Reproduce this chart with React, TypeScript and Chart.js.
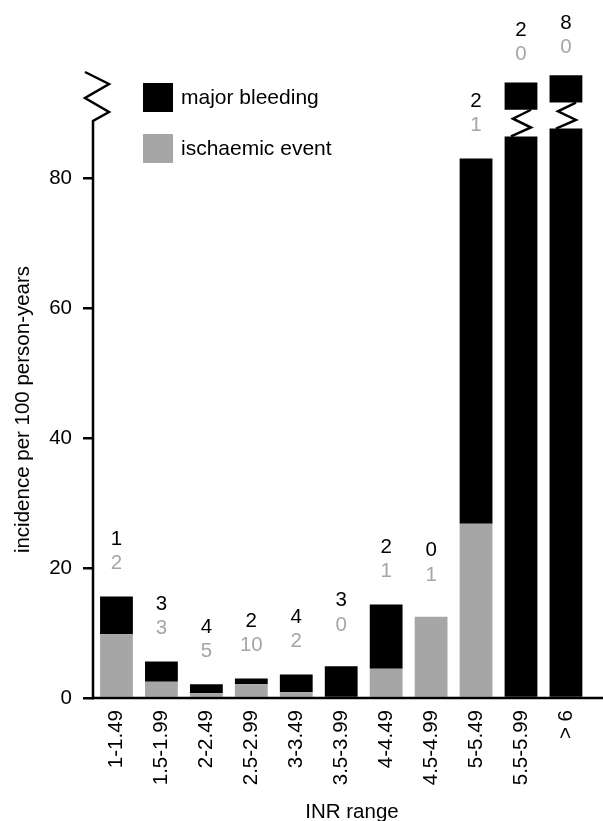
import React, { useEffect, useRef } from 'react';
import { Chart, registerables } from 'chart.js';

Chart.register(...registerables);

// ---- data ----
const categories = ['1-1.49', '1.5-1.99', '2-2.49', '2.5-2.99', '3-3.49', '3.5-3.99', '4-4.49', '4.5-4.99', '5-5.49', '5.5-5.99', '> 6'];
// incidence per 100 person-years
const ischaemicIncidence = [9.8, 2.5, 0.75, 2.1, 0.9, 0, 4.5, 12.5, 26.8, 0, 0];
// bleeding part stacked on the ischaemic part (for broken bars: the part below the break)
const bleedingIncidence = [5.8, 3.1, 1.35, 0.9, 2.7, 4.9, 9.9, 0, 56.2, 86.4, 87.6];
// broken bars: segment drawn above the axis break
const brokenLow: (number | null)[] = [null, null, null, null, null, null, null, null, null, 90.5, 91.6];
const brokenHigh: (number | null)[] = [null, null, null, null, null, null, null, null, null, 94.7, 95.8];
// number of events written above each bar
const bleedingCounts = [1, 3, 4, 2, 4, 3, 2, 0, 2, 2, 8];
const ischaemicCounts = [2, 3, 5, 10, 2, 0, 1, 1, 1, 0, 0];
const yTicks = [0, 20, 40, 60, 80];
const yMax = 96;
const xTitle = 'INR range';
const yTitle = 'incidence per 100 person-years';

const BLACK = '#000000';
const GRAY = '#a6a6a6';
const FONT = "'Liberation Sans', Arial, Helvetica, sans-serif";
const FS = 20.5;

const decorPlugin = {
  id: 'decor',
  afterDatasetsDraw(chart: any) {
    const { ctx, chartArea, scales } = chart;
    const xs = scales.x;
    const ys = scales.y;
    const ax = chartArea.left - 1;
    const y0 = ys.getPixelForValue(0);
    const t = chartArea.top;
    const breakBottom = t + 47;
    ctx.save();
    ctx.strokeStyle = BLACK;
    ctx.lineWidth = 2.5;
    ctx.lineJoin = 'miter';
    ctx.lineCap = 'butt';
    // axes with break mark on y axis
    ctx.beginPath();
    ctx.moveTo(ax - 8, t - 2);
    ctx.lineTo(ax + 16, t + 10);
    ctx.lineTo(ax - 8, t + 24);
    ctx.lineTo(ax + 16, t + 38);
    ctx.lineTo(ax, breakBottom);
    ctx.lineTo(ax, y0);
    ctx.lineTo(chart.width, y0);
    ctx.stroke();

    // break marks on broken bars
    categories.forEach((_, i) => {
      const lo = brokenLow[i];
      if (lo == null) return;
      const cx = xs.getPixelForValue(i);
      const ub = ys.getPixelForValue(lo);
      const lt = ys.getPixelForValue(ischaemicIncidence[i] + bleedingIncidence[i]);
      const g = lt - ub;
      ctx.beginPath();
      ctx.moveTo(cx + 10, ub);
      ctx.lineTo(cx - 8, ub + g / 3);
      ctx.lineTo(cx + 10, ub + (2 * g) / 3);
      ctx.lineTo(cx - 10, lt);
      ctx.stroke();
    });

    // event counts above bars
    ctx.font = `${FS}px ${FONT}`;
    ctx.textAlign = 'center';
    ctx.textBaseline = 'middle';
    categories.forEach((_, i) => {
      const hi = brokenHigh[i];
      const topVal = hi != null ? hi : ischaemicIncidence[i] + bleedingIncidence[i];
      const py = ys.getPixelForValue(topVal);
      const cx = xs.getPixelForValue(i);
      let o1 = 57, o2 = 33;
      if (hi != null) { o1 = 52; o2 = 28; }
      else if (ischaemicIncidence[i] === 0 || bleedingIncidence[i] === 0) { o1 = 66; o2 = 41; }
      ctx.fillStyle = BLACK;
      ctx.fillText(String(bleedingCounts[i]), cx, py - o1);
      ctx.fillStyle = GRAY;
      ctx.fillText(String(ischaemicCounts[i]), cx, py - o2);
    });

    // axis titles
    ctx.fillStyle = BLACK;
    ctx.font = `${FS}px ${FONT}`;
    ctx.textAlign = 'center';
    ctx.textBaseline = 'alphabetic';
    ctx.fillText(xTitle, chartArea.left + 258, chart.height - 3);
    ctx.save();
    ctx.translate(23.5, (breakBottom + y0) / 2);
    ctx.rotate(-Math.PI / 2);
    ctx.textBaseline = 'middle';
    ctx.fillText(yTitle, 0, 0);
    ctx.restore();

    // legend
    const items = [
      { label: chart.data.datasets[1].label, color: BLACK },
      { label: chart.data.datasets[0].label, color: GRAY },
    ];
    ctx.font = `21px ${FONT}`;
    ctx.textAlign = 'left';
    ctx.textBaseline = 'middle';
    items.forEach((it, k) => {
      const bx = chartArea.left + 49;
      const by = t + 9 + k * 51;
      ctx.fillStyle = it.color;
      ctx.fillRect(bx, by, 30, 29);
      ctx.fillStyle = BLACK;
      ctx.fillText(it.label, bx + 38, by + 15);
    });
    ctx.restore();
  },
};

export default function App() {
  const ref = useRef<HTMLCanvasElement | null>(null);
  useEffect(() => {
    if (!ref.current) return;
    const chart = new Chart(ref.current, {
      type: 'bar',
      data: {
        labels: categories,
        datasets: [
          {
            label: 'ischaemic event',
            data: ischaemicIncidence,
            backgroundColor: GRAY,
          },
          {
            label: 'major bleeding',
            data: categories.map((_, i) => [ischaemicIncidence[i], ischaemicIncidence[i] + bleedingIncidence[i]]) as any,
            backgroundColor: BLACK,
          },
          {
            label: 'major bleeding (above break)',
            data: categories.map((_, i) => (brokenLow[i] == null ? null : [brokenLow[i], brokenHigh[i]])) as any,
            backgroundColor: BLACK,
          },
        ],
      },
      options: {
        animation: false,
        responsive: false,
        devicePixelRatio: 1,
        layout: { padding: { top: 74, right: 10, bottom: 0, left: 0 } },
        datasets: {
          bar: { grouped: false, categoryPercentage: 1, barPercentage: 0.73, borderWidth: 0 },
        },
        plugins: {
          legend: { display: false },
          tooltip: { enabled: false },
        },
        scales: {
          x: {
            type: 'category',
            grid: { display: false, drawTicks: false },
            border: { display: false },
            ticks: {
              autoSkip: false,
              minRotation: 90,
              maxRotation: 90,
              padding: 12,
              color: BLACK,
              font: { family: FONT, size: FS },
            },
            title: { display: false, text: xTitle },
            afterFit: (scale: any) => { scale.height = 123; },
          },
          y: {
            type: 'linear',
            min: 0,
            max: yMax,
            grid: { display: true, drawOnChartArea: false, drawTicks: true, tickLength: 11, color: BLACK, lineWidth: 2.5 },
            border: { display: false },
            afterBuildTicks: (scale: any) => { scale.ticks = yTicks.map((v) => ({ value: v })); },
            ticks: {
              padding: 11,
              color: BLACK,
              font: { family: FONT, size: FS },
            },
            title: { display: false, text: yTitle },
            afterFit: (scale: any) => { scale.width = 94; },
          },
        },
      },
      plugins: [decorPlugin],
    });
    return () => chart.destroy();
  }, []);
  return (
    <div style={{ position: 'fixed', left: 0, top: 0, width: 603, height: 821, background: '#fff' }}>
      <canvas ref={ref} width={603} height={821} />
    </div>
  );
}
